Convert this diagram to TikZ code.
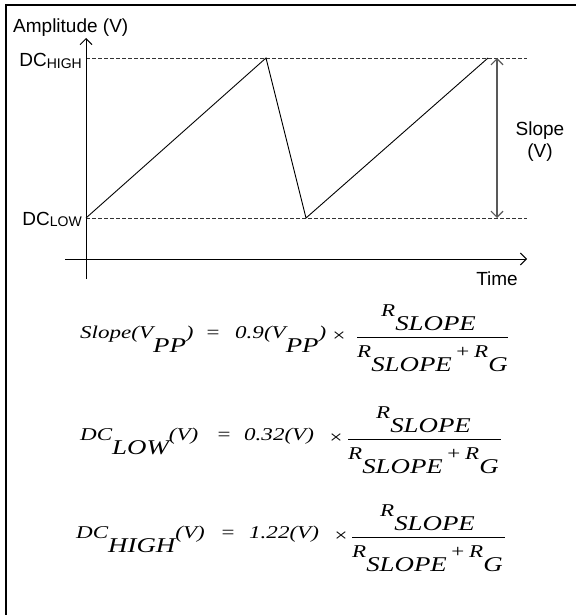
\documentclass[tikz,border=0pt]{standalone}
\usepackage{fontspec}
\setmainfont{Liberation Serif}
\newfontfamily\arial{Liberation Sans}
\usetikzlibrary{arrows.meta}
\newcommand{\eqsub}[1]{\raisebox{-14.5pt}{\fontsize{21}{21}\selectfont #1}}
\newcommand{\lblsub}[1]{\raisebox{-1.5pt}{\fontsize{14}{14}\selectfont #1}}
\newcommand{\wide}[1]{\scalebox{1.28}[1]{#1}}
\newcommand{\rfrac}{R\eqsub{SLOPE}\hspace{2.3pt}+\hspace{3pt}R\eqsub{G}}
\begin{document}
\begin{tikzpicture}[x=1pt,y=-1pt,
  lbl/.style={font=\arial\fontsize{19}{22}\selectfont, inner sep=0pt},
  eq/.style={font=\itshape\fontsize{18}{18}\selectfont, inner sep=0pt, anchor=base west},
  eqc/.style={eq, anchor=base},
  axis/.style={line width=1pt, -{Straight Barb[length=6pt,width=12pt]}},
  guide/.style={line width=0.9pt, dash pattern=on 3.5pt off 2.5pt, black!80},
  wave/.style={line width=0.9pt, line join=miter},
  span/.style={line width=1.2pt, black!65, {Straight Barb[length=6pt,width=12pt]}-{Straight Barb[length=6pt,width=12pt]}},
  fracbar/.style={line width=0.9pt}]
\useasboundingbox (0,0) rectangle (576,615);
\fill[white] (0,0) rectangle (576,615);
% frame
\draw[line width=2.3pt, line join=miter] (6,615) -- (6,5) -- (576,5);
% coordinates
\coordinate (yb) at (86,279);
\coordinate (yt) at (86,38);
\coordinate (xl) at (65,259);
\coordinate (xr) at (527,259);
\coordinate (hl) at (86,58);
\coordinate (hr) at (527,58);
\coordinate (ll) at (86,218);
\coordinate (lr) at (527,218);
\coordinate (p1) at (86,218);
\coordinate (p2) at (266,58);
\coordinate (p3) at (306,218);
\coordinate (p4) at (488,58);
\coordinate (s1) at (497,58);
\coordinate (s2) at (497,218);
% guides
\draw[guide] (hl) -- (hr);
\draw[guide] (ll) -- (lr);
% axes
\draw[axis] (yb) -- (yt);
\draw[axis] (xl) -- (xr);
% waveform
\draw[wave] (p1) -- (p2) -- (p3) -- (p4);
% slope span
\draw[span] (s1) -- (s2);
% labels
\node[lbl, anchor=base west] (amp) at (13,33) {Amplitude (V)};
\node[lbl, anchor=base east] (dch) at (82,67) {DC\lblsub{HIGH}};
\node[lbl, anchor=base east] (dcl) at (82,225) {DC\lblsub{LOW}};
\node[lbl, align=center] (slp) at (540,142) {Slope\\(V)};
\node[lbl, anchor=base] (time) at (497,285) {Time};
% equation 1
\node[eq] (e1l) at (80,338) {\wide{Slope(V\eqsub{PP})}};
\node[eqc] (e1e) at (213,338) {\wide{=}};
\node[eq] (e1r) at (235,338) {\wide{0.9(V\eqsub{PP})}};
\node[eqc] (e1x) at (339,341) {\wide{×}};
\node[eq] (e1n) at (381,316) {\wide{R\eqsub{SLOPE}}};
\node[eq] (e1d) at (357,357) {\wide{\rfrac}};
\draw[fracbar] (357,337) -- (508,337);
% equation 2
\node[eq] (e2l) at (80,440) {\wide{DC\eqsub{LOW}(V)}};
\node[eqc] (e2e) at (224,440) {\wide{=}};
\node[eq] (e2r) at (244,440) {\wide{0.32(V)}};
\node[eqc] (e2x) at (336,443) {\wide{×}};
\node[eq] (e2n) at (376,418) {\wide{R\eqsub{SLOPE}}};
\node[eq] (e2d) at (348,459) {\wide{\rfrac}};
\draw[fracbar] (348,439) -- (501,439);
% equation 3
\node[eq] (e3l) at (76,538) {\wide{DC\eqsub{HIGH}(V)}};
\node[eqc] (e3e) at (228,538) {\wide{=}};
\node[eq] (e3r) at (249,538) {\wide{1.22(V)}};
\node[eqc] (e3x) at (341,541) {\wide{×}};
\node[eq] (e3n) at (380,516) {\wide{R\eqsub{SLOPE}}};
\node[eq] (e3d) at (352,557) {\wide{\rfrac}};
\draw[fracbar] (352,537) -- (505,537);
\end{tikzpicture}
\end{document}
